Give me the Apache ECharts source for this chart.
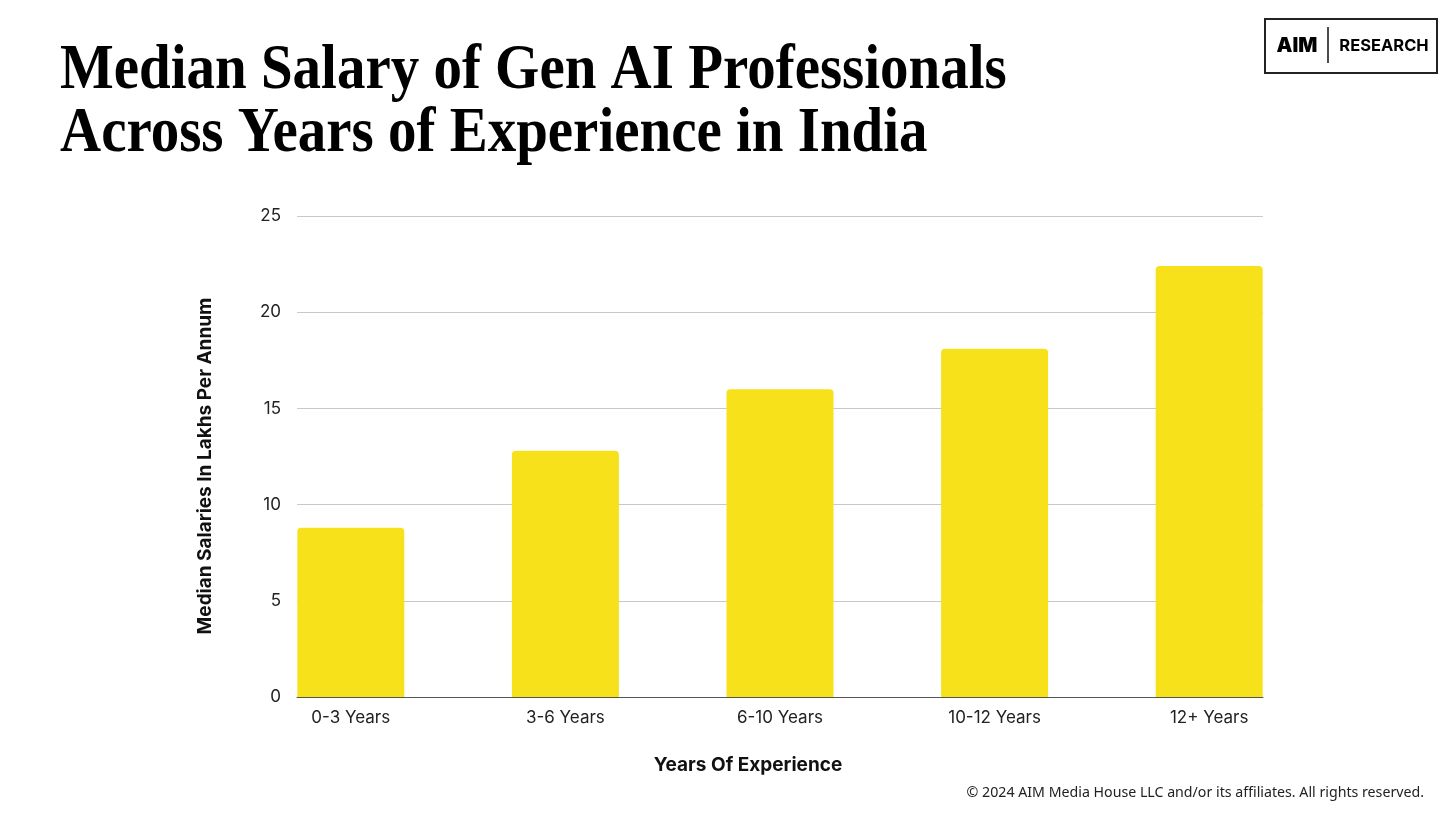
<!DOCTYPE html>
<html>
<head>
<meta charset="utf-8">
<script src="https://cdn.jsdelivr.net/npm/echarts@6/dist/echarts.min.js"></script>
<style>
  html, body { margin: 0; padding: 0; background: #fff; }
  #chart { width: 1456px; height: 819px; }
</style>
</head>
<body>
<div id="chart"></div>
<script>
// data
const categories = ['0-3 Years', '3-6 Years', '6-10 Years', '10-12 Years', '12+ Years'];
const salaries = [8.8, 12.8, 16, 18.1, 22.4];
const yTicks = [0, 5, 10, 15, 20, 25];

const titleLines = ['Median Salary of Gen AI Professionals', 'Across Years of Experience in India'];
const yAxisTitle = 'Median Salaries In Lakhs Per Annum';
const xAxisTitle = 'Years Of Experience';
const footer = '\u00a9 2024 AIM Media House LLC and/or its affiliates. All rights reserved.';

const chart = echarts.init(document.getElementById('chart'), null, { renderer: 'canvas' });

const sans = 'Inter, "Noto Sans", sans-serif';

const option = {
  backgroundColor: '#ffffff',
  animation: false,
  grid: [
    // grid with gridlines + y labels
    { left: 297, right: 193, top: 216, bottom: 122 },
    // grid holding the bars (wider so bars sit flush with gridline ends)
    { left: 243.5, right: 139.5, top: 216, bottom: 122 }
  ],
  xAxis: [
    {
      type: 'category', gridIndex: 0, data: categories,
      axisLine: { show: true, lineStyle: { color: '#555', width: 1 } },
      axisTick: { show: false }, axisLabel: { show: false }
    },
    {
      type: 'category', gridIndex: 1, data: categories,
      axisLine: { show: false }, axisTick: { show: false },
      axisLabel: { color: '#222', fontSize: 17, fontFamily: sans, margin: 12 }
    }
  ],
  yAxis: [
    {
      type: 'value', gridIndex: 0, min: 0, max: 25, interval: 5,
      axisLine: { show: false }, axisTick: { show: false },
      axisLabel: {
        color: '#222', fontSize: 17, fontFamily: sans, margin: 16,
        formatter: v => (yTicks.includes(v) ? String(v) : '')
      },
      splitLine: { lineStyle: { color: '#c8c8c8', width: 1 } }
    },
    {
      type: 'value', gridIndex: 1, min: 0, max: 25, interval: 5,
      show: false, splitLine: { show: false }
    }
  ],
  series: [
    {
      type: 'bar', xAxisIndex: 1, yAxisIndex: 1,
      data: salaries, barWidth: 107,
      itemStyle: { color: '#F7E11A', borderRadius: [4, 4, 0, 0] },
      z: 1
    }
  ],
  graphic: [
    // title, squeezed a bit to match the condensed display serif
    {
      type: 'text', x: 60, y: 40, scaleX: 0.89,
      style: {
        text: titleLines.join('\n'),
        font: 'bold 64px "Liberation Serif", "DejaVu Serif", serif',
        lineHeight: 63, fill: '#000', verticalAlign: 'top'
      }
    },
    {
      type: 'text', x: 205, y: 466, rotation: Math.PI / 2,
      style: {
        text: yAxisTitle, font: 'bold 19px ' + sans, fill: '#111',
        align: 'center', verticalAlign: 'middle'
      }
    },
    {
      type: 'text', x: 748, y: 765,
      style: {
        text: xAxisTitle, font: 'bold 19px ' + sans, fill: '#111',
        align: 'center', verticalAlign: 'middle'
      }
    },
    {
      type: 'text', x: 1424, y: 793,
      style: {
        text: footer, font: '14.2px "Noto Sans", sans-serif', fill: '#222',
        align: 'right', verticalAlign: 'middle'
      }
    },
    // logo box
    {
      type: 'rect', shape: { x: 1265, y: 19, width: 172, height: 54 },
      style: { fill: '#fff', stroke: '#222', lineWidth: 2 }
    },
    {
      type: 'text', x: 1297, y: 46,
      style: {
        text: 'AIM', font: '900 20px Inter, "Noto Sans", sans-serif', fill: '#000',
        align: 'center', verticalAlign: 'middle'
      }
    },
    {
      type: 'line', shape: { x1: 1328, y1: 27, x2: 1328, y2: 63 },
      style: { stroke: '#111', lineWidth: 1.5 }
    },
    {
      type: 'text', x: 1384, y: 46,
      style: {
        text: 'RESEARCH', font: 'bold 16.5px Inter, "Noto Sans", sans-serif', fill: '#000',
        align: 'center', verticalAlign: 'middle'
      }
    }
  ]
};

chart.setOption(option);
</script>
</body>
</html>
